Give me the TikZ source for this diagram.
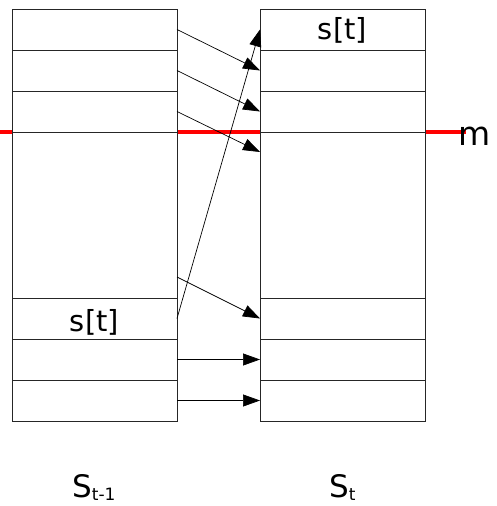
\documentclass[tikz,border=0pt]{standalone}
\usepackage{fontspec}
\setmainfont{DejaVu Sans}
\usetikzlibrary{arrows.meta}

\newcommand{\lowidx}[1]{\raisebox{-3pt}{\fontsize{17}{17}\selectfont #1}}

\begin{document}
\begin{tikzpicture}[x=1pt, y=-1pt,
    cell/.style={draw=black!85, line width=0.8pt, fill=white, minimum width=165pt,
      minimum height=41pt, inner sep=0pt, outer sep=0pt},
    bigcell/.style={cell, minimum height=166pt},
    move/.style={-{Triangle[length=17pt, width=12pt]}, line width=0.7pt},
    lbl/.style={inner sep=0pt, font=\fontsize{29}{29}\selectfont}]
  \useasboundingbox (0,0) rectangle (497,506);

  % red level line, under the cells
  \coordinate (m0) at (0,132);
  \coordinate (m1) at (466,132);
  \draw[red, line width=4pt] (m0) -- (m1);
  \node[lbl, font=\fontsize{33}{33}\selectfont, anchor=base west] (m) at (458,145) {m};

  % the two stacks
  \foreach \n/\y in {1/29.5, 2/70.5, 3/111.5, 5/318.5, 6/359.5, 7/400.5} {
    \node[cell] (L\n) at (94.5,\y) {};
    \node[cell] (R\n) at (342.5,\y) {};
  }
  \node[bigcell] (L4) at (94.5,215) {};
  \node[bigcell] (R4) at (342.5,215) {};

  \node[lbl, anchor=base] (sl) at ([yshift=-13pt]L5.center) {s[t]};
  \node[lbl, anchor=base] (sr) at ([yshift=-10pt]R1.center) {s[t]};

  % moves
  \draw[move] (L1.east) -- (R2.west);
  \draw[move] (L2.east) -- (R3.west);
  \draw[move] (L3.east) -- ([yshift=-20pt]R4.north west);
  \draw[move] ([yshift=21pt]L4.south east) -- (R5.west);
  \draw[move] (L5.east) -- (R1.west);
  \draw[move] (L6.east) -- (R6.west);
  \draw[move] (L7.east) -- (R7.west);

  \node[lbl, font=\fontsize{31}{31}\selectfont, anchor=base west] (sprev) at (72,497) {S\lowidx{t-1}};
  \node[lbl, font=\fontsize{31}{31}\selectfont, anchor=base west] (snext) at (329,497) {S\lowidx{t}};
\end{tikzpicture}
\end{document}
